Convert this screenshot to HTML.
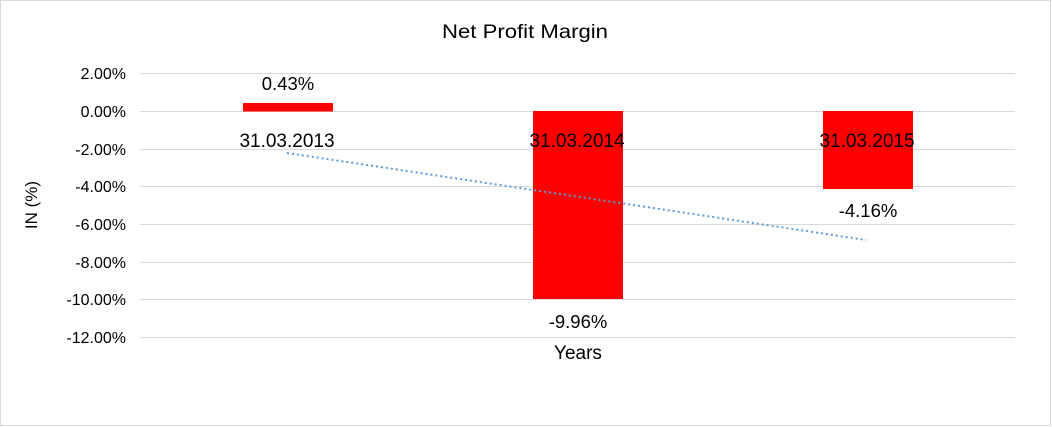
<!DOCTYPE html>
<html><head><meta charset="utf-8"><style>
html,body{margin:0;padding:0;background:#fff;}
svg{display:block;font-family:"Liberation Sans",Arial,sans-serif;}
</style></head><body>
<svg width="1052" height="427" viewBox="0 0 1052 427" xmlns="http://www.w3.org/2000/svg">
<rect x="0.5" y="0.5" width="1050" height="425" fill="#fff" stroke="#d9d9d9"/>
<text x="442" y="38" font-size="19.5" textLength="166" lengthAdjust="spacingAndGlyphs" fill="#000">Net Profit Margin</text>
<g stroke="#d9d9d9" stroke-width="1">
<line x1="140" x2="1015" y1="73.5" y2="73.5"/>
<line x1="140" x2="1015" y1="111.5" y2="111.5"/>
<line x1="140" x2="1015" y1="149.5" y2="149.5"/>
<line x1="140" x2="1015" y1="186.5" y2="186.5"/>
<line x1="140" x2="1015" y1="224.5" y2="224.5"/>
<line x1="140" x2="1015" y1="262.5" y2="262.5"/>
<line x1="140" x2="1015" y1="299.5" y2="299.5"/>
<line x1="140" x2="1015" y1="337.5" y2="337.5"/>
</g>
<g font-size="16" text-anchor="end" fill="#000">
<text x="126" y="79">2.00%</text>
<text x="126" y="117">0.00%</text>
<text x="126" y="155">-2.00%</text>
<text x="126" y="192">-4.00%</text>
<text x="126" y="230">-6.00%</text>
<text x="126" y="268">-8.00%</text>
<text x="126" y="305">-10.00%</text>
<text x="126" y="343">-12.00%</text>
</g>
<text transform="translate(37,205) rotate(-90)" font-size="17" text-anchor="middle">IN (%)</text>
<rect x="243" y="103" width="90" height="8.5" fill="#ff0000"/>
<rect x="533" y="111" width="90" height="188" fill="#ff0000"/>
<rect x="823" y="111" width="90" height="78" fill="#ff0000"/>
<line x1="287" y1="153" x2="866" y2="240" stroke="#5b9bd5" stroke-width="2" stroke-dasharray="2,3"/>
<g font-size="18.5" text-anchor="middle" fill="#000">
<text x="288" y="90">0.43%</text>
<text x="578" y="328">-9.96%</text>
<text x="868" y="217">-4.16%</text>
</g>
<g font-size="19" text-anchor="middle" fill="#000">
<text x="287" y="147">31.03.2013</text>
<text x="577" y="147">31.03.2014</text>
<text x="867" y="147">31.03.2015</text>
<text x="578" y="359">Years</text>
</g>
</svg>
</body></html>
